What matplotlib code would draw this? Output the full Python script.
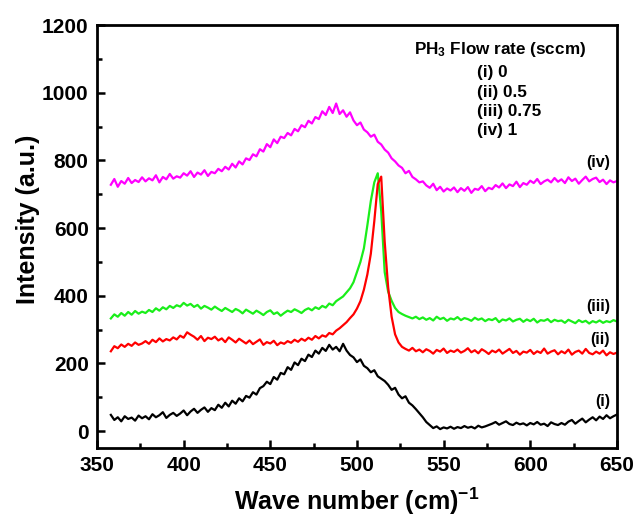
import matplotlib
matplotlib.use('Agg')
import matplotlib.pyplot as plt
import numpy as np
from matplotlib.ticker import MultipleLocator

plt.rcParams['font.family'] = ['Liberation Sans', 'DejaVu Sans']
plt.rcParams['font.weight'] = 'bold'
plt.rcParams['mathtext.fontset'] = 'custom'
plt.rcParams['mathtext.rm'] = 'Liberation Sans:bold'
plt.rcParams['mathtext.it'] = 'Liberation Sans:bold'
plt.rcParams['mathtext.bf'] = 'Liberation Sans:bold'

# Raman shift grid (cm^-1), one point every 2 cm^-1
wavenumber = np.arange(358, 651, 2)

# (i) 0 sccm
intensity_i = [
    48, 33, 41, 29, 44, 36, 40, 31, 46, 38,
    44, 35, 50, 41, 47, 56, 39, 48, 54, 45,
    52, 61, 47, 58, 66, 54, 63, 70, 57, 68,
    62, 78, 69, 84, 73, 90, 81, 97, 88, 104,
    99, 115, 108, 127, 133, 146, 139, 160, 152, 172,
    168, 189, 181, 203, 195, 214, 207, 226, 219, 238,
    229, 246, 237, 255, 241, 249, 236, 258, 238, 225,
    218, 204, 212, 193, 186, 174, 180, 162, 155, 148,
    137, 122, 128, 108, 97, 103, 84, 76, 65, 53,
    41, 27, 18, 9, 14, 6, 11, 8, 13, 7,
    12, 9, 15, 10, 13, 8, 16, 11, 14, 18,
    22, 27, 19, 24, 29, 21, 18, 25, 20, 23,
    17, 24, 20, 27, 19, 22, 15, 26, 21, 18,
    24, 19, 28, 33, 22, 30, 37, 26, 34, 41,
    32, 43, 36, 47, 38, 44, 49,
]

# (ii) 0.5 sccm
intensity_ii = [
    236, 251, 245, 256, 249, 258, 252, 262, 255, 259,
    266, 258, 270, 263, 274, 265, 272, 268, 277, 271,
    282, 276, 292, 285, 279, 270, 281, 266, 276, 272,
    279, 268, 274, 263, 277, 270, 262, 273, 266, 259,
    268, 257, 264, 271, 255, 263, 259, 267, 254, 262,
    258, 266, 261, 270, 264, 273, 267, 276, 270, 281,
    274, 283, 279, 290, 286, 297, 304, 313, 322, 334,
    345, 362, 384, 418, 463, 524, 620, 730, 752, 560,
    425, 338, 286, 262, 249, 243, 238, 246, 236, 241,
    233, 242, 237, 229, 240, 235, 244, 231, 238, 234,
    241, 232, 237, 245, 233, 239, 230, 242, 236, 228,
    238, 233, 241, 229, 236, 243, 231, 237, 226, 235,
    232, 240, 228, 236, 231, 244, 229, 235, 239, 227,
    236, 230, 241, 226, 234, 238, 229, 243, 231, 227,
    235, 229, 238, 224, 233, 228, 232,
]

# (iii) 0.75 sccm
intensity_iii = [
    333, 345, 338, 349, 341, 352, 344, 355, 347, 353,
    349, 358, 352, 363, 356, 366, 360, 370, 364, 372,
    368, 379, 371, 376, 367, 373, 362, 370, 365, 359,
    368, 361, 355, 364, 358, 352, 361, 356, 348, 359,
    353, 347, 356, 350, 343, 352, 357, 346, 351, 341,
    349, 356, 352, 360, 355, 349, 358, 363, 357, 366,
    361, 370, 365, 377, 372, 384, 391, 398, 410, 422,
    440, 470, 500, 540, 608, 680, 735, 762, 650, 470,
    412, 385, 364, 352, 346, 341, 337, 333, 338, 331,
    336, 329, 334, 327, 338, 331, 335, 326, 333, 330,
    337, 328, 334, 331, 326, 335, 329, 333, 325, 331,
    328, 334, 322, 330, 327, 333, 324, 329, 332, 323,
    330, 325, 332, 321, 328, 326, 331, 322, 329, 325,
    327, 320, 329, 324, 319, 328, 322, 326, 318, 325,
    321, 327, 320, 325, 322, 328, 324,
]

# (iv) 1 sccm
intensity_iv = [
    728, 745, 722, 739, 731, 748, 733, 742, 736, 750,
    738, 747, 741, 756, 735, 751, 744, 760, 746, 753,
    749, 762, 755, 768, 751, 764, 758, 771, 754, 766,
    762, 775, 768, 781, 773, 790, 779, 797, 788, 806,
    801, 818, 812, 833, 826, 848, 839, 862, 851, 870,
    866, 881, 874, 893, 886, 904, 898, 917, 909, 928,
    922, 945, 934, 958, 940, 968, 937, 948, 929, 942,
    918, 904, 912, 891, 883, 870, 876, 855, 847, 832,
    823, 806, 797, 785, 778, 762, 769, 751, 744, 735,
    738, 726, 719, 731, 712, 722, 708, 717, 711, 720,
    706, 718, 710, 721, 704, 716, 713, 724, 709, 719,
    715, 727, 720, 732, 718, 729, 724, 737, 721, 733,
    728, 740, 733, 745, 730, 738, 743, 735, 748, 737,
    744, 733, 750, 739, 746, 731, 742, 752, 738, 745,
    749, 736, 743, 730, 741, 735, 739,
]

flow_labels = ['(i) 0', '(ii) 0.5', '(iii) 0.75', '(iv) 1']

fig = plt.figure(figsize=(6.36, 5.21), dpi=100)
ax = fig.add_axes([0.1525, 0.14, 0.8175, 0.812])

lw = 1.6
ax.plot(wavenumber, intensity_i, color='black', lw=lw)
ax.plot(wavenumber, intensity_iii, color='#1aee1a', lw=lw)
ax.plot(wavenumber, intensity_ii, color='#ff0000', lw=lw)
ax.plot(wavenumber, intensity_iv, color='#ff00ff', lw=lw)

ax.set_xlim(350, 650)
ax.set_ylim(-50, 1200)
ax.xaxis.set_major_locator(MultipleLocator(50))
ax.xaxis.set_minor_locator(MultipleLocator(25))
ax.yaxis.set_major_locator(MultipleLocator(200))
ax.yaxis.set_minor_locator(MultipleLocator(100))
ax.tick_params(which='both', direction='in', width=1.8, top=False, right=False)
ax.tick_params(which='major', length=6, labelsize=15, pad=6)
ax.tick_params(which='minor', length=3.5)
for lab in ax.get_xticklabels() + ax.get_yticklabels():
    lab.set_fontweight('bold')
for sp in ax.spines.values():
    sp.set_linewidth(2)

ax.set_xlabel('Wave number (cm)$^{\\mathbf{-1}}$', fontsize=18, fontweight='bold', labelpad=7)
ax.set_ylabel('Intensity (a.u.)', fontsize=18, fontweight='bold')
ax.yaxis.set_label_coords(-0.11, 0.54)

# legend block
ax.text(533, 1127, 'PH$_3$ Flow rate (sccm)', fontsize=12.3, fontweight='bold', va='center')
for lbl, yv in zip(flow_labels, [1061, 1002, 943, 888]):
    ax.text(569, yv, lbl, fontsize=12.3, fontweight='bold', va='center')

# curve tags
for tag, yv in zip(['(iv)', '(iii)', '(ii)', '(i)'], [793, 368, 271, 88]):
    ax.text(646, yv, tag, fontsize=11.5, fontweight='bold', ha='right', va='center')

fig.savefig('out.png', dpi=100)
